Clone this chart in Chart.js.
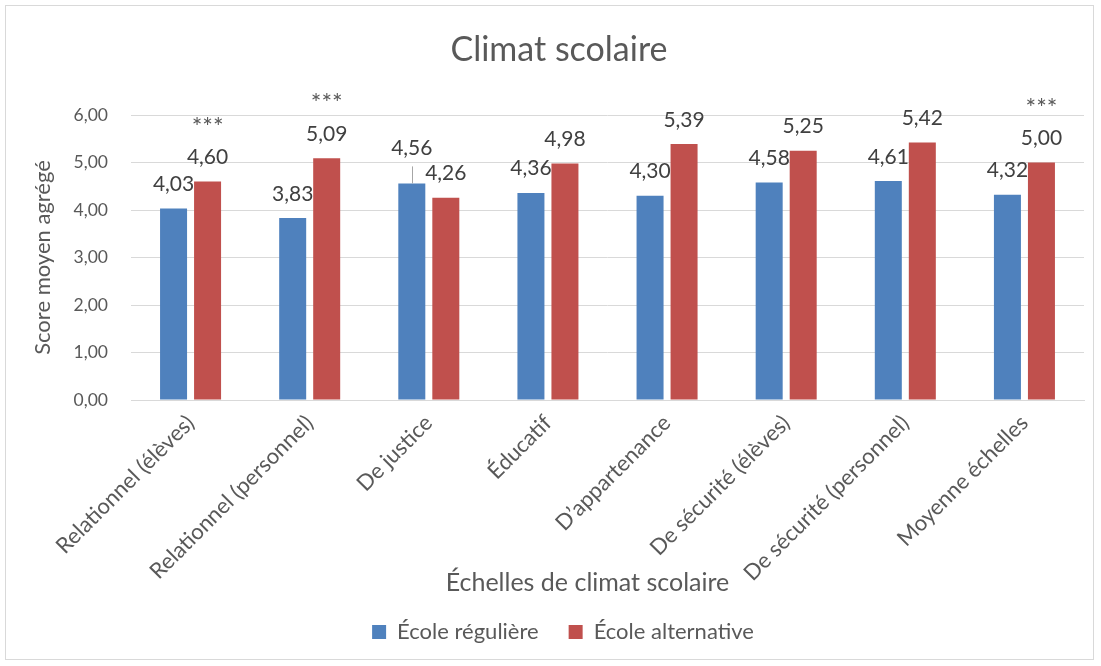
<!DOCTYPE html>
<html lang="fr">
<head>
<meta charset="utf-8">
<title>Climat scolaire</title>
<script src="https://cdn.jsdelivr.net/npm/chart.js@4/dist/chart.umd.min.js"></script>
<style>
  html, body { margin: 0; padding: 0; background: #ffffff; }
  #wrap { width: 1101px; height: 666px; }
</style>
</head>
<body>
<div id="wrap"><canvas id="chart" width="1101" height="666"></canvas></div>
<script>
// Échelles de climat scolaire
const categories = [
  'Relationnel (élèves)',
  'Relationnel (personnel)',
  'De justice',
  'Éducatif',
  'D’appartenance',
  'De sécurité (élèves)',
  'De sécurité (personnel)',
  'Moyenne échelles'
];

// Score moyen agrégé par type d'école
const ecoleReguliere   = [4.03, 3.83, 4.56, 4.36, 4.30, 4.58, 4.61, 4.32];
const ecoleAlternative = [4.60, 5.09, 4.26, 4.98, 5.39, 5.25, 5.42, 5.00];

// Seuils de signification affichés au-dessus de chaque échelle
const significance = ['***', '***', '', '', '', '', '', '***'];

const seriesNames = ['École régulière', 'École alternative'];
const xAxisTitle = 'Échelles de climat scolaire';

const FONT = 'Lato, "Open Sans", sans-serif';
const TEXT = '#595959';
const LABEL_TEXT = '#404040';
const GRID = '#D9D9D9';

const fmt = v => Number(v).toFixed(2).replace('.', ',');

// Cadre gris autour du graphique, recentrage du titre et de la légende
const framePlugin = {
  id: 'frame',
  afterLayout(chart) {
    if (chart.titleBlock) { chart.titleBlock.left += 17; chart.titleBlock.right += 17; }
    if (chart.legend) { chart.legend.left += 21; chart.legend.right += 21; }
  },
  beforeDraw(chart) {
    const ctx = chart.ctx;
    ctx.save();
    ctx.fillStyle = '#ffffff';
    ctx.fillRect(0, 0, chart.width, chart.height);
    ctx.strokeStyle = GRID;
    ctx.lineWidth = 1;
    ctx.strokeRect(5.5, 5.5, chart.width - 13, chart.height - 12);
    ctx.restore();
  },
  afterDraw(chart) {
    // Titre de l'axe horizontal
    const xs = chart.scales.x;
    const ctx = chart.ctx;
    ctx.save();
    ctx.font = '25px ' + FONT;
    ctx.fillStyle = TEXT;
    ctx.textAlign = 'center';
    ctx.textBaseline = 'middle';
    ctx.fillText(xAxisTitle, (xs.left + xs.right) / 2 - 20, xs.bottom - 8);
    ctx.restore();
  }
};

// Étiquettes de valeurs et marqueurs de signification
const valueLabelPlugin = {
  id: 'valueLabels',
  afterDatasetsDraw(chart) {
    const ctx = chart.ctx;
    const size = 21;
    const gap = 25;           // distance entre le haut de la barre et le centre de l'étiquette
    const lifted = { ds: 0, idx: 2, extra: 11 }; // étiquette déplacée avec trait de rappel
    ctx.save();
    ctx.font = size + 'px ' + FONT;
    ctx.fillStyle = LABEL_TEXT;
    ctx.textAlign = 'center';
    ctx.textBaseline = 'alphabetic';
    const redCenters = [];
    chart.data.datasets.forEach((ds, di) => {
      const meta = chart.getDatasetMeta(di);
      meta.data.forEach((bar, i) => {
        let cy = bar.y - gap;
        if (di === lifted.ds && i === lifted.idx) {
          cy -= lifted.extra;
          ctx.save();
          ctx.strokeStyle = '#A6A6A6';
          ctx.lineWidth = 1;
          ctx.beginPath();
          ctx.moveTo(Math.round(bar.x) + 0.5, cy + 19);
          ctx.lineTo(Math.round(bar.x) + 0.5, bar.y);
          ctx.stroke();
          ctx.restore();
        }
        ctx.fillText(fmt(ds.data[i]), bar.x, cy + size * 0.36);
        if (di === 1) redCenters[i] = { x: bar.x, y: cy };
      });
    });
    // *** au-dessus de l'étiquette de l'école alternative
    const starSize = 25;
    ctx.font = starSize + 'px ' + FONT;
    ctx.fillStyle = TEXT;
    significance.forEach((s, i) => {
      if (!s || !redCenters[i]) return;
      const c = redCenters[i];
      const ty = c.y - 35;
      ctx.fillText(s, c.x, ty + starSize * 0.57);
    });
    ctx.restore();
  }
};

const chart = new Chart(document.getElementById('chart'), {
  type: 'bar',
  data: {
    labels: categories,
    datasets: [
      {
        label: seriesNames[0],
        data: ecoleReguliere,
        backgroundColor: '#4F81BD',
        categoryPercentage: 0.571,
        barPercentage: 0.794
      },
      {
        label: seriesNames[1],
        data: ecoleAlternative,
        backgroundColor: '#C0504D',
        categoryPercentage: 0.571,
        barPercentage: 0.794
      }
    ]
  },
  options: {
    responsive: false,
    animation: false,
    devicePixelRatio: 1,
    layout: { padding: { left: 0, right: 17, top: 0, bottom: 13 } },
    plugins: {
      title: {
        display: true,
        text: 'Climat scolaire',
        color: TEXT,
        font: { family: FONT, size: 34, weight: 'normal', lineHeight: 1.2 },
        padding: { top: 29.6, bottom: 44.6 }
      },
      legend: {
        position: 'bottom',
        labels: {
          color: TEXT,
          font: { family: FONT, size: 22 },
          boxWidth: 14,
          boxHeight: 14,
          padding: 30
        }
      },
      tooltip: { enabled: false }
    },
    scales: {
      x: {
        grid: { display: false },
        border: { color: GRID, width: 1 },
        ticks: {
          color: TEXT,
          font: { family: FONT, size: 22 },
          autoSkip: false,
          maxRotation: 45,
          minRotation: 45,
          padding: 2
        },
        title: { display: false },
        afterFit(scale) { scale.height = 191; }
      },
      y: {
        min: 0,
        max: 6,
        grid: { color: GRID, lineWidth: 1, drawTicks: false },
        border: { display: false },
        ticks: {
          stepSize: 1,
          color: TEXT,
          font: { family: FONT, size: 17.5 },
          padding: 23,
          callback: v => fmt(v)
        },
        title: {
          display: true,
          text: 'Score moyen agrégé',
          color: TEXT,
          font: { family: FONT, size: 22, lineHeight: 1.2 },
          padding: { top: 29.8, bottom: 0 }
        },
        afterFit(scale) { scale.width = 131; }
      }
    }
  },
  plugins: [framePlugin, valueLabelPlugin]
});
</script>
</body>
</html>
